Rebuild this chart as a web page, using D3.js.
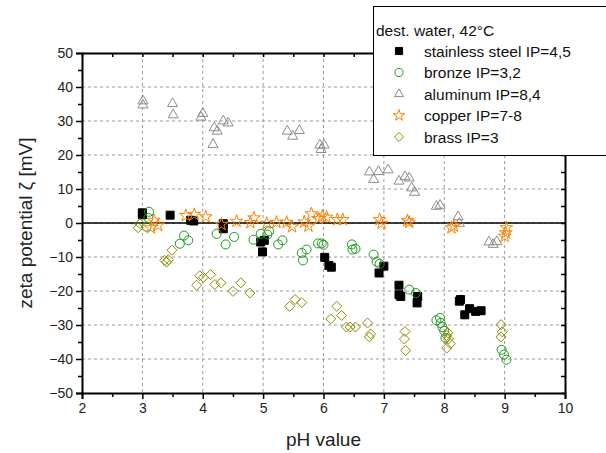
<!DOCTYPE html>
<html>
<head>
<meta charset="utf-8">
<script src="https://cdn.jsdelivr.net/npm/d3@7"></script>
<style>
  body { margin: 0; background: #fff; }
  svg { font-family: "Liberation Sans", Arial, sans-serif; }
</style>
</head>
<body>
<svg id="chart" width="606" height="453"></svg>
<script>
// data: [pH, zeta mV]
const steel = [
  [3.0, 3.0], [3.0, 2.4], [3.46, 2.3], [3.80, 0.8], [3.85, 0.6], [4.34, -0.2], [4.34, -1.7],
  [4.96, -5.6], [5.02, -5.1], [4.99, -8.5], [6.02, -10.1], [6.09, -12.5], [6.13, -13.0],
  [6.92, -14.7], [7.0, -12.7], [7.25, -18.3], [7.25, -21.1], [7.28, -21.6], [7.56, -21.6],
  [7.55, -23.5], [8.25, -23.0], [8.27, -22.5], [8.34, -27.0], [8.42, -25.2], [8.52, -26.0], [8.61, -25.8]
];
const bronze = [
  [3.11, 3.3], [3.10, 1.5], [3.07, -1.1], [3.69, -3.7], [3.62, -6.1], [3.76, -5.1],
  [4.23, -3.2], [4.38, -6.3], [4.52, -4.1], [4.84, -4.9], [4.96, -3.2], [5.10, -2.4],
  [5.07, -3.4], [5.25, -6.3], [5.32, -5.1], [5.64, -8.8], [5.72, -7.8], [5.66, -11.0],
  [5.91, -6.0], [5.97, -6.0], [6.0, -6.4], [6.47, -6.3], [6.48, -7.8], [6.53, -7.6],
  [6.83, -9.3], [6.88, -11.4], [6.93, -12.0], [7.42, -19.6], [7.53, -20.6],
  [7.87, -28.6], [7.93, -27.9], [7.94, -29.4], [7.97, -30.6], [8.0, -31.7], [8.02, -33.8],
  [8.95, -37.3], [8.99, -38.7], [9.03, -40.2]
];
const aluminum = [
  [3.01, 35.9], [3.01, 34.7], [3.50, 35.1], [3.51, 31.8], [4.0, 32.2], [3.97, 31.1],
  [4.19, 28.0], [4.24, 27.0], [4.17, 23.1], [4.34, 30.0], [4.42, 29.4], [5.40, 27.0],
  [5.49, 25.5], [5.60, 27.2], [5.94, 22.9], [6.01, 22.9], [5.96, 21.6], [6.76, 15.0],
  [6.91, 15.1], [6.83, 12.8], [7.07, 15.6], [7.25, 12.3], [7.35, 13.6], [7.42, 13.2],
  [7.46, 10.3], [7.51, 9.0], [7.87, 4.9], [7.93, 5.2], [8.23, 1.8], [8.25, -0.1],
  [8.74, -5.6], [8.81, -6.3], [8.87, -5.5]
];
const copper = [
  [3.19, 0.8], [3.14, -1.4], [3.26, -0.7], [3.72, 2.2], [3.86, 2.5], [4.05, 1.8],
  [4.31, -0.4], [4.56, 0.5], [4.79, 0.1], [4.85, 1.5], [5.06, -0.1], [5.22, 0.2],
  [5.39, 0.2], [5.48, -1.1], [5.68, 0.3], [5.75, -0.9], [5.80, 2.7], [5.92, 1.3],
  [5.98, 2.0], [6.05, 1.7], [6.23, 1.0], [6.32, 1.0], [6.93, 1.0], [6.96, -0.1],
  [7.39, 0.7], [7.42, 0.2], [8.12, -1.4], [8.16, -0.9], [9.03, -1.4], [9.02, -2.9], [9.0, -3.9]
];
const brass = [
  [2.96, -0.2], [2.93, -1.4], [3.49, -8.0], [3.37, -11.0], [3.43, -10.8], [3.40, -11.5],
  [3.95, -15.5], [4.01, -16.0], [4.13, -15.2], [3.90, -18.3], [4.20, -18.1], [4.30, -17.6],
  [4.50, -20.1], [4.63, -17.6], [4.78, -20.6], [5.44, -24.5], [5.53, -22.5], [5.64, -23.4],
  [6.22, -24.5], [6.12, -28.2], [6.30, -27.2], [6.38, -30.6], [6.44, -30.6], [6.53, -30.6],
  [6.73, -29.4], [6.78, -32.6], [6.76, -33.5], [7.35, -31.9], [7.34, -34.1], [7.36, -37.5],
  [8.06, -32.3], [8.04, -33.1], [8.07, -34.1], [8.10, -35.5], [8.04, -36.8],
  [8.94, -29.9], [8.96, -32.0], [8.94, -33.5]
];
const xTicks = [2, 3, 4, 5, 6, 7, 8, 9, 10];
const yTicks = [-50, -40, -30, -20, -10, 0, 10, 20, 30, 40, 50];

// square diamond (rotated square, same width and height)
const symbolRhomb = {
  draw(context, size) {
    const r = Math.sqrt(size / 2);
    context.moveTo(0, -r);
    context.lineTo(r, 0);
    context.lineTo(0, r);
    context.lineTo(-r, 0);
    context.closePath();
  }
};

const series = [
  { name: "stainless steel IP=4,5", data: steel, symbol: d3.symbolSquare, size: 64, fill: "#000", stroke: "#000" },
  { name: "bronze IP=3,2", data: bronze, symbol: d3.symbolCircle, size: 64, fill: "none", stroke: "#1e9a1e" },
  { name: "aluminum IP=8,4", data: aluminum, symbol: d3.symbolTriangle, size: 44, fill: "none", stroke: "#8c8c8c" },
  { name: "copper IP=7-8", data: copper, symbol: d3.symbolStar, size: 50, fill: "none", stroke: "#ff8000" },
  { name: "brass IP=3", data: brass, symbol: symbolRhomb, size: 50, fill: "none", stroke: "#8c8c00" }
];

const svg = d3.select("#chart");
const margin = { left: 82, right: 41, top: 53, bottom: 60 };
const W = 606, H = 453;

const x = d3.scaleLinear().domain([2, 10]).range([margin.left, W - margin.right]);
const y = d3.scaleLinear().domain([-50, 50]).range([H - margin.bottom, margin.top]);

// grid
const grid = svg.append("g").attr("stroke", "#999").attr("stroke-dasharray", "3,3").attr("stroke-width", 1);
grid.selectAll(".gx").data(xTicks.slice(1, -1)).enter().append("line")
  .attr("x1", d => x(d)).attr("x2", d => x(d)).attr("y1", y(50)).attr("y2", y(-50));
grid.selectAll(".gy").data(yTicks.slice(1, -1)).enter().append("line")
  .attr("x1", x(2)).attr("x2", x(10)).attr("y1", d => y(d)).attr("y2", d => y(d));

// zero line
svg.append("line").attr("x1", x(2)).attr("x2", x(10)).attr("y1", y(0)).attr("y2", y(0))
  .attr("stroke", "#000").attr("stroke-width", 1.5);

// axes
const fmt = d3.format("d");
const xMinor = d3.range(2.5, 10, 1);
const yMinor = d3.range(-45, 50, 10);

svg.append("g").attr("transform", `translate(0,${y(-50)})`)
  .call(d3.axisBottom(x).tickValues(xTicks).tickFormat(fmt).tickSize(6).tickPadding(4));
svg.append("g").attr("transform", `translate(0,${y(-50)})`)
  .call(d3.axisBottom(x).tickValues(xMinor).tickFormat("").tickSize(4))
  .select(".domain").remove();

svg.append("g").attr("transform", `translate(${x(2)},0)`)
  .call(d3.axisLeft(y).tickValues(yTicks).tickFormat(fmt).tickSize(6).tickPadding(3));
svg.append("g").attr("transform", `translate(${x(2)},0)`)
  .call(d3.axisLeft(y).tickValues(yMinor).tickFormat("").tickSize(4))
  .select(".domain").remove();

// top & right, inward ticks
svg.append("g").attr("transform", `translate(0,${y(50)})`)
  .call(d3.axisTop(x).tickValues(xTicks.concat(xMinor)).tickFormat("").tickSize(-4).tickSizeOuter(0));
svg.append("g").attr("transform", `translate(${x(10)},0)`)
  .call(d3.axisRight(y).tickValues(yTicks.concat(yMinor)).tickFormat("").tickSize(-4).tickSizeOuter(0));

svg.selectAll(".domain").attr("stroke", "#000").attr("stroke-width", 2);
svg.selectAll(".tick line").attr("stroke", "#000").attr("stroke-width", 1.5);
svg.selectAll(".tick text").attr("font-size", 14).attr("fill", "#222")
  .attr("font-family", "'Liberation Sans', Arial, sans-serif");

// points
series.forEach(s => {
  svg.append("g").selectAll("path").data(s.data).enter().append("path")
    .attr("transform", d => `translate(${x(d[0])},${y(d[1])})`)
    .attr("d", d3.symbol().type(s.symbol).size(s.size))
    .attr("fill", s.fill).attr("stroke", s.stroke).attr("stroke-width", 1);
});

// axis titles
svg.append("text").attr("x", x(6)).attr("y", 446).attr("text-anchor", "middle")
  .attr("font-size", 19).attr("fill", "#222").text("pH value");
svg.append("text").attr("transform", `translate(32,${y(0)}) rotate(-90)`).attr("text-anchor", "middle")
  .attr("font-size", 19).attr("fill", "#222").text("zeta potential ζ [mV]");

// legend
const lg = svg.append("g");
lg.append("rect").attr("x", 373.5).attr("y", 6.5).attr("width", 240).attr("height", 149)
  .attr("fill", "#fff").attr("stroke", "#000").attr("stroke-width", 1);
lg.append("text").attr("x", 376).attr("y", 36).attr("font-size", 15.5).attr("fill", "#111")
  .text("dest. water, 42°C");
series.forEach((s, i) => {
  const cy = 51 + i * 21.5;
  lg.append("path").attr("transform", `translate(399,${cy})`)
    .attr("d", d3.symbol().type(s.symbol).size(s.size * 0.8))
    .attr("fill", s.fill).attr("stroke", s.stroke).attr("stroke-width", 1);
  lg.append("text").attr("x", 424).attr("y", cy + 5.5).attr("font-size", 15.5).attr("fill", "#111")
    .text(s.name);
});
</script>
</body>
</html>
